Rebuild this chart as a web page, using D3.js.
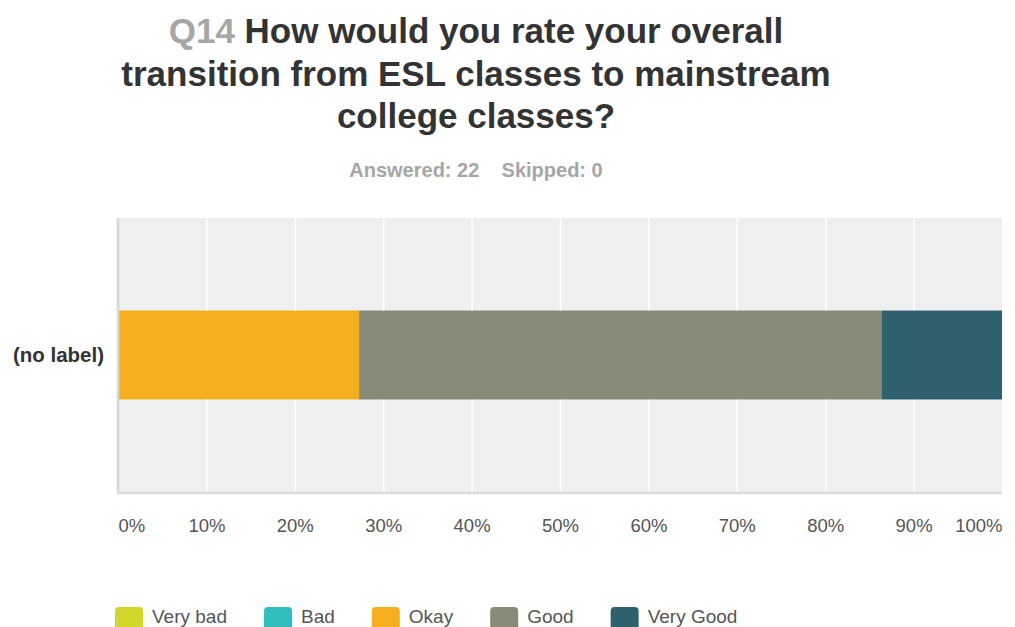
<!DOCTYPE html>
<html>
<head>
<meta charset="utf-8">
<script src="https://cdn.jsdelivr.net/npm/d3@7/dist/d3.min.js"></script>
<style>
  html, body { margin: 0; padding: 0; background: #fff; }
  svg { display: block; font-family: "Liberation Sans", Arial, Helvetica, sans-serif; }
</style>
</head>
<body>
<svg id="chart" width="1015" height="627"></svg>
<script>
// Survey question and response summary
const questionNumber = "Q14";
const titleLines = [
  "How would you rate your overall",
  "transition from ESL classes to mainstream",
  "college classes?"
];
const answered = 22;
const skipped = 0;

// Rows and answer choices
const rows = ["(no label)"];
const choices = ["Very bad", "Bad", "Okay", "Good", "Very Good"];
const choiceColors = ["#d0d62a", "#2fbdbd", "#f5af1e", "#898a77", "#2f606d"];

// Share of respondents per choice (counts out of 22)
const shares = [0, 0, 6 / 22, 13 / 22, 3 / 22];

// Axis tick values
const tickValues = [0, 0.1, 0.2, 0.3, 0.4, 0.5, 0.6, 0.7, 0.8, 0.9, 1.0];

const svg = d3.select("#chart");

// ---- Title ----
const cx = 476;
const title = svg.append("g")
  .attr("font-weight", "bold")
  .attr("font-size", 35)
  .attr("text-anchor", "middle");
const lineY = [43, 85.5, 128];
titleLines.forEach((ln, i) => {
  const t = title.append("text").attr("x", cx).attr("y", lineY[i]).attr("fill", "#333");
  if (i === 0) {
    t.append("tspan").attr("fill", "#a6a6a6").text(questionNumber + " ");
  }
  t.append("tspan").text(ln);
});

svg.append("text")
  .attr("x", cx).attr("y", 177)
  .attr("text-anchor", "middle")
  .attr("font-weight", "bold")
  .attr("font-size", 20)
  .attr("fill", "#a6a6a6")
  .attr("xml:space", "preserve")
  .text(`Answered: ${answered}    Skipped: ${skipped}`);

// ---- Plot ----
const plot = { left: 118, right: 1002, top: 218, bottom: 492 };

const x = d3.scaleLinear().domain([0, 1]).range([plot.left, plot.right]);
const y = d3.scaleBand().domain(rows).range([plot.top, plot.bottom]).padding(0.51);

svg.append("rect")
  .attr("x", plot.left).attr("y", plot.top)
  .attr("width", plot.right - plot.left).attr("height", plot.bottom - plot.top)
  .attr("fill", "#efefef");

// vertical gridlines
const grid = svg.append("g")
  .attr("transform", `translate(0,${plot.bottom})`)
  .call(d3.axisBottom(x).tickValues(tickValues.slice(1, -1)).tickSize(-(plot.bottom - plot.top)).tickFormat(""));
grid.select(".domain").remove();
grid.selectAll("line").attr("stroke", "#ffffff").attr("stroke-width", 1.6);

// stacked bars
const stackData = rows.map(r => {
  const o = { row: r };
  choices.forEach((c, i) => o[c] = shares[i]);
  return o;
});
const series = d3.stack().keys(choices)(stackData);

svg.append("g").selectAll("g")
  .data(series)
  .join("g")
  .attr("fill", (d, i) => choiceColors[i])
  .selectAll("rect")
  .data(d => d)
  .join("rect")
  .attr("x", d => x(d[0]))
  .attr("y", d => y(d.data.row))
  .attr("width", d => Math.max(0, x(d[1]) - x(d[0])))
  .attr("height", y.bandwidth());

// axis lines (left and bottom)
svg.append("line")
  .attr("x1", plot.left).attr("x2", plot.left)
  .attr("y1", plot.top).attr("y2", plot.bottom + 1.5)
  .attr("stroke", "#d8d8d8").attr("stroke-width", 2.5);
svg.append("line")
  .attr("x1", plot.left - 1).attr("x2", plot.right)
  .attr("y1", plot.bottom + 1).attr("y2", plot.bottom + 1)
  .attr("stroke", "#dcdcdc").attr("stroke-width", 2.5);

// x axis labels
const xAxis = svg.append("g")
  .attr("transform", `translate(0,${plot.bottom})`)
  .call(d3.axisBottom(x).tickValues(tickValues).tickSize(0).tickPadding(0).tickFormat(d3.format(".0%")));
xAxis.select(".domain").remove();
xAxis.selectAll("text")
  .attr("y", 40)
  .attr("dy", 0)
  .attr("font-size", 18.5)
  .attr("font-family", "Liberation Sans, Arial, sans-serif")
  .attr("fill", "#555")
  .attr("text-anchor", (d, i, n) => i === 0 ? "start" : (i === n.length - 1 ? "end" : "middle"));

// y axis label
const yAxis = svg.append("g")
  .attr("transform", `translate(${plot.left},0)`)
  .call(d3.axisLeft(y).tickSize(0).tickPadding(14));
yAxis.select(".domain").remove();
yAxis.selectAll("text")
  .attr("font-size", 20.5)
  .attr("font-weight", "bold")
  .attr("font-family", "Liberation Sans, Arial, sans-serif")
  .attr("fill", "#333")
  .attr("dy", "0.35em");

// ---- Legend ----
const legend = svg.append("g").attr("font-size", 19).attr("fill", "#555");
let lx = 115;
choices.forEach((c, i) => {
  const g = legend.append("g").attr("transform", `translate(${lx},607)`);
  g.append("rect")
    .attr("width", 28).attr("height", 27).attr("rx", 4)
    .attr("fill", choiceColors[i]);
  const t = g.append("text").attr("x", 37).attr("y", 16).text(c);
  const w = t.node().getComputedTextLength();
  lx += 37 + w + 37;
});
</script>
</body>
</html>
